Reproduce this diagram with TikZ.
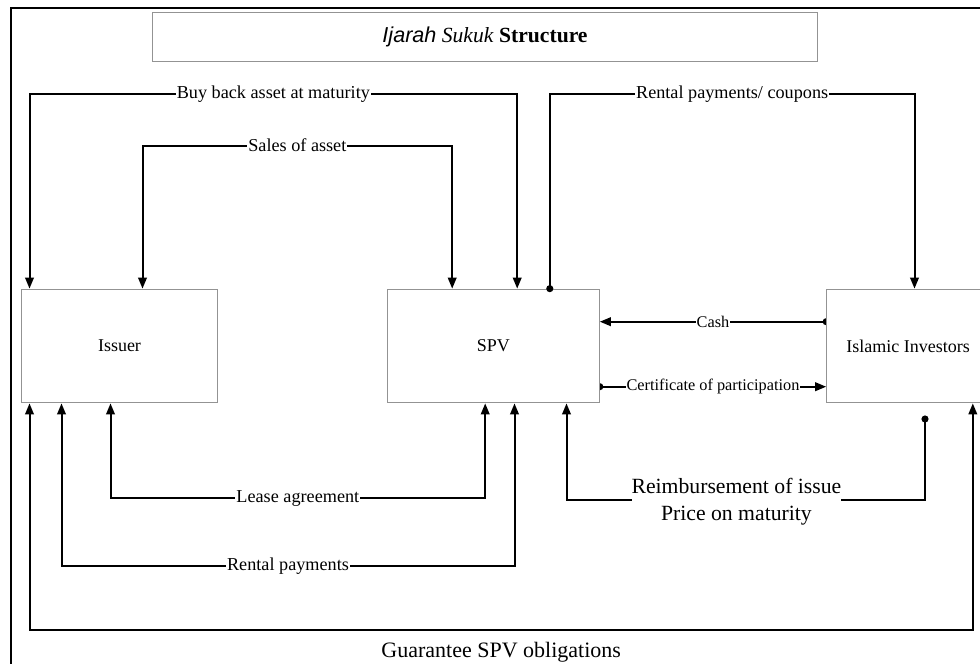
\documentclass[tikz,border=0pt]{standalone}
\usepackage{fontspec}
\setmainfont{Liberation Serif}
\newfontfamily\arialfont{Liberation Sans}
\usetikzlibrary{arrows.meta,calc}
\pgfdeclarelayer{bg}
\pgfsetlayers{bg,main}
\tikzset{
	>={Triangle[length=11pt,width=8.5pt]},
	party/.style={draw=gray!85, line width=1pt, fill=white, inner sep=0pt,
			minimum height=113.7pt, font=\fontsize{18}{21}\selectfont},
	flow/.style={line width=2pt},
	dotstart/.style={flow, {Circle[length=7pt]}->, shorten <=-3.5pt},
	lbl/.style={fill=white, inner sep=1pt, font=\fontsize{18.2}{21}\selectfont},
	smalllbl/.style={lbl, font=\fontsize{16.3}{19}\selectfont}
}

\begin{document}
\begin{tikzpicture}[x=1pt, y=-1pt]
	\useasboundingbox (0,0) rectangle (980,664);
	\clip (0,0) rectangle (980,664);
	\draw[line width=1.6pt] (11,700) -- (11,8) -- (1000,8);

	\node[party, minimum width=664.6pt, minimum height=48.7pt, font=\fontsize{21.6}{24}\selectfont] (title) at (485,36.7)
		{{\arialfont\itshape Ijarah} \textit{Sukuk} \textbf{Structure}};
	\node[party, minimum width=195.6pt] (issuer) at (119.5,346) {Issuer};
	\node[party, minimum width=212pt] (spv) at (493.3,346) {SPV};
	\node[party, minimum width=162.6pt] (investors) at (908,346) {Islamic Investors};
	\coordinate (refund) at (925,419);

	\draw[flow, <->] ([xshift=8.3pt]issuer.north west) -- ++(0,-195)
		-| node[lbl, pos=0.25] {Buy back asset at maturity} ([xshift=130.4pt]spv.north west);
	\draw[flow, <->] ([xshift=121.3pt]issuer.north west) -- ++(0,-143)
		-| node[lbl, pos=0.25] {Sales of asset} ([xshift=65.4pt]spv.north west);
	\draw[dotstart] ([xshift=163pt]spv.north west) -- ++(0,-195)
		-| node[lbl, pos=0.25] {Rental payments/ coupons} ([xshift=88.3pt]investors.north west);

	\draw[flow, <->] ([xshift=89.3pt]issuer.south west) -- ++(0,95)
		-| node[lbl, pos=0.25] {Lease agreement} ([xshift=98.4pt]spv.south west);
	\draw[flow, <->] ([xshift=40.3pt]issuer.south west) -- ++(0,163)
		-| node[lbl, pos=0.25] {Rental payments} ([xshift=127.7pt]spv.south west);
	\draw[flow, <->] ([xshift=8.3pt]issuer.south west) -- ++(0,227)
		-| node[pos=0.25, below, inner sep=2pt, yshift=-9pt, font=\fontsize{22}{26}\selectfont] {Guarantee SPV obligations}
		([xshift=146.6pt]investors.south west);
	\draw[dotstart] (refund) -- ++(0,81)
		-| node[lbl, pos=0.263, yshift=-2pt, align=center, inner sep=0pt, font=\fontsize{21.7}{27}\selectfont]
		{Reimbursement of issue\\Price on maturity} ([xshift=179.7pt]spv.south west);

	\begin{pgfonlayer}{bg}
		\draw[dotstart] ([yshift=24.3pt]investors.west) -- node[smalllbl] {Cash} ([yshift=24.3pt]spv.east);
		\draw[dotstart] ([yshift=-40.7pt]spv.east) -- node[smalllbl] {Certificate of participation} ([yshift=-40.7pt]investors.west);
	\end{pgfonlayer}
\end{tikzpicture}
\end{document}
